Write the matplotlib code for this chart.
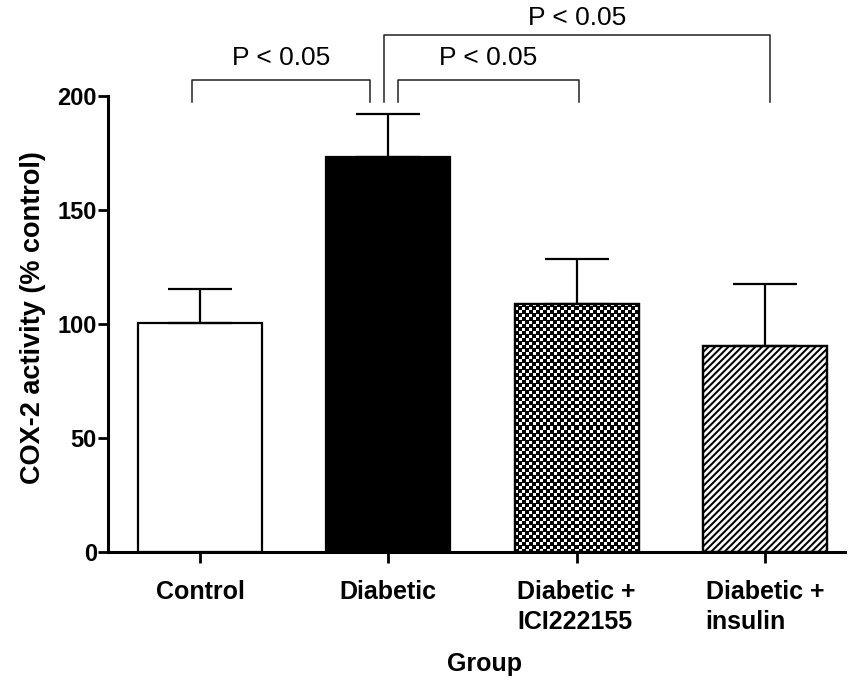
import numpy as np
import matplotlib
matplotlib.use("Agg")
import matplotlib.pyplot as plt
from matplotlib.patches import Rectangle
from matplotlib.collections import LineCollection
from matplotlib.transforms import IdentityTransform

plt.rcParams['font.family'] = ['Liberation Sans', 'DejaVu Sans']

# Data: COX-2 activity (% of control), mean and upper SEM
groups = ["Control", "Diabetic", "Diabetic +\nICI222155", "Diabetic +\ninsulin"]
means = [100.3, 173.2, 108.8, 90.5]
errors = [14.9, 19.0, 19.7, 27.0]
patterns = ["white", "black", "checker", "stripes"]

# Significance brackets: (x_left, x_right, y_top, y_bottom, label)
brackets = [
    (-0.042, 0.903, 207.0, 197.4, "P < 0.05"),
    (1.052, 2.013, 207.0, 197.4, "P < 0.05"),
    (0.977, 3.027, 226.8, 197.4, "P < 0.05"),
]
bracket_label_y = [216.7, 216.7, 234.2]

fig = plt.figure(figsize=(8.49, 6.86), dpi=100)
ax = fig.add_axes([108 / 849, 1 - 552 / 686, (845 - 108) / 849, (552 - 96) / 686])

x = np.arange(len(groups))
width = 0.66
ax.set_xlim(-0.4886, 3.425)
ax.set_ylim(0, 200)

face = {"white": "white", "black": "black", "checker": "white", "stripes": "white"}
bars = ax.bar(x, means, width, color=[face[p] for p in patterns],
              edgecolor="black", linewidth=1.6, zorder=2)

fig.canvas.draw()


def checker_image(wpx, hpx):
    # staggered black squares on a 7 px grid
    W, H = int(round(wpx)), int(round(hpx))
    xx, yy = np.meshgrid(np.arange(W) + 0.5, np.arange(H) + 0.5)
    period, blk = 7.0, 4.0
    a = ((xx % period) < blk) & ((yy % period) < blk)
    b = (((xx + period / 2) % period) < blk) & (((yy + period / 2) % period) < blk)
    return 1 - (a | b).astype(float)


for bar, kind in zip(bars, patterns):
    if kind not in ("checker", "stripes"):
        continue
    x0, y0 = bar.get_x(), 0
    x1, y1 = bar.get_x() + bar.get_width(), bar.get_height()
    (px0, py0), (px1, py1) = ax.transData.transform([(x0, y0), (x1, y1)])
    wpx, hpx = abs(px1 - px0), abs(py1 - py0)
    if kind == "checker":
        im = ax.imshow(checker_image(wpx, hpx), cmap="gray", vmin=0, vmax=1,
                       extent=(x0, x1, y0, y1), origin="upper",
                       interpolation="nearest", aspect="auto", zorder=2.5)
        im.set_clip_path(bar)
    else:
        # 45-degree lines drawn in screen space, clipped to the bar
        period = 6.7
        L = wpx + hpx
        segs = [[(px0 + c, py0), (px0 + c + L, py0 + L)]
                for c in np.arange(-hpx - period, wpx + period, period)]
        lc = LineCollection(segs, colors="black", linewidths=1.45,
                            transform=IdentityTransform(), zorder=2.5)
        ax.add_collection(lc, autolim=False)
        lc.set_clip_path(bar)
    ax.add_patch(Rectangle((x0, y0), x1 - x0, y1 - y0, fill=False,
                           edgecolor="black", linewidth=1.6, zorder=3))

ax.set_aspect("auto")
ax.set_xlim(-0.4886, 3.425)
ax.set_ylim(0, 200)

ax.errorbar(x, means, yerr=[np.zeros(len(errors)), errors], fmt="none",
            ecolor="black", elinewidth=1.6, capsize=23, capthick=1.6, zorder=4)

for (xl, xr, yt, yb, lab), ly in zip(brackets, bracket_label_y):
    ax.plot([xl, xl, xr, xr], [yb, yt, yt, yb], color="#222222", lw=1.1,
            clip_on=False, zorder=5)
    ax.text((xl + xr) / 2, ly, lab, ha="center", va="center", fontsize=19,
            clip_on=False)

for s in ("top", "right"):
    ax.spines[s].set_visible(False)
ax.spines["left"].set_linewidth(2.2)
ax.spines["bottom"].set_linewidth(2.2)
ax.spines["left"].set_bounds(0, 200)

ax.set_yticks([0, 50, 100, 150, 200])
ax.tick_params(axis="y", length=7, width=2, labelsize=17, pad=1)
ax.tick_params(axis="x", length=8, width=2, labelsize=18, pad=12)
for t in ax.get_yticklabels():
    t.set_fontweight("bold")
ax.set_xticks(x)
ax.set_xticklabels(groups, fontweight="bold", linespacing=1.35,
                   multialignment="left")

fig.text(33 / 849, 1 - 318 / 686, "COX-2 activity (% control)", rotation=90,
         ha="center", va="center", fontsize=19.5, fontweight="bold")
fig.text(484 / 849, 1 - 664 / 686, "Group", ha="center", va="center",
         fontsize=18, fontweight="bold")

fig.savefig("out.png", dpi=100)
